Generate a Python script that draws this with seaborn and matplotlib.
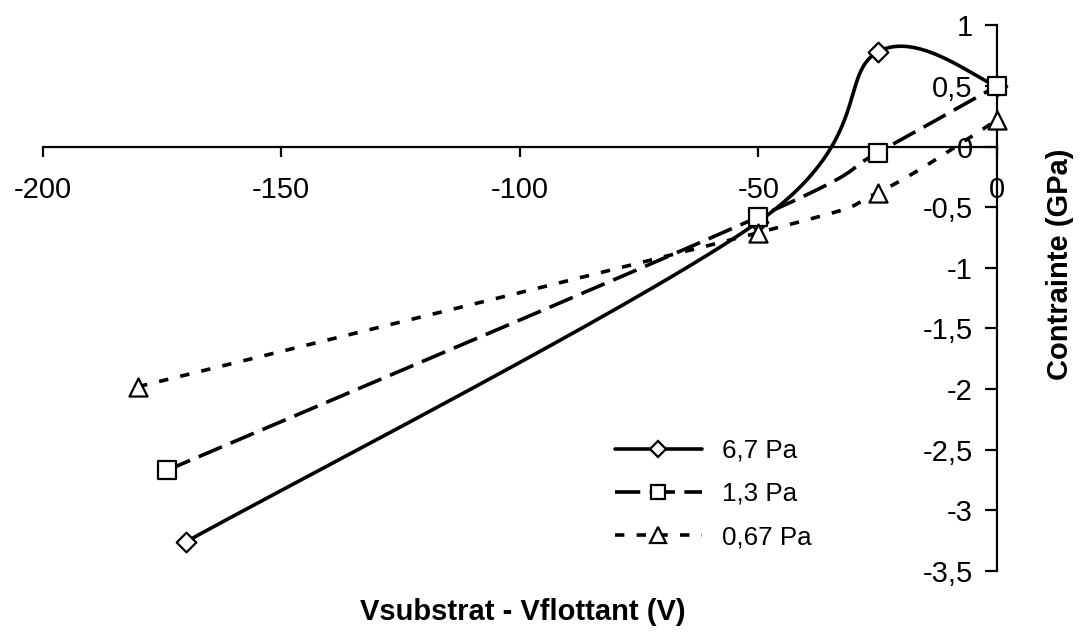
import numpy as np
import pandas as pd
import matplotlib
matplotlib.use("Agg")
import matplotlib.pyplot as plt
import seaborn as sns
from matplotlib.lines import Line2D
from matplotlib.ticker import FixedLocator, FixedFormatter

# ---- data ----
series_names = ["6,7 Pa", "1,3 Pa", "0,67 Pa"]
x_67 = [-170, -50, -25, 0]
y_67 = [-3.26, -0.62, 0.78, 0.50]
x_13 = [-174, -50, -25, 0]
y_13 = [-2.67, -0.58, -0.05, 0.50]
x_067 = [-180, -50, -25, 0]
y_067 = [-1.98, -0.71, -0.38, 0.22]

x_ticks = [-200, -150, -100, -50, 0]
x_tick_labels = ["-200", "-150", "-100", "-50", "0"]
y_ticks = [1, 0.5, 0, -0.5, -1, -1.5, -2, -2.5, -3, -3.5]
y_tick_labels = ["1", "0,5", "0", "-0,5", "-1", "-1,5", "-2", "-2,5", "-3", "-3,5"]

x_title = "Vsubstrat - Vflottant (V)"
y_title = "Contrainte (GPa)"

sns.set_style("white")
plt.rcParams["font.family"] = ["Liberation Sans", "DejaVu Sans"]
plt.rcParams["text.color"] = "black"
plt.rcParams["axes.labelcolor"] = "black"
plt.rcParams["xtick.color"] = "black"
plt.rcParams["ytick.color"] = "black"

W, H = 1080, 640
fig = plt.figure(figsize=(W / 100, H / 100), dpi=100)
left, right = 42.7 / W, 997 / W
top, bottom = 1 - 25.3 / H, 1 - 571 / H
ax = fig.add_axes([left, bottom, right - left, top - bottom])
ax.set_xlim(-200, 0)
ax.set_ylim(-3.5, 1)

ax_w_px = (right - left) * W
ax_h_px = (top - bottom) * H
sx, sy = ax_w_px / 200.0, ax_h_px / 4.5


def excel_smooth(xs, ys, n=60):
    P = np.column_stack([np.asarray(xs, float) * sx, np.asarray(ys, float) * sy])
    m = len(P)
    out = []
    for i in range(m - 1):
        p0 = P[max(i - 1, 0)]
        p1 = P[i]
        p2 = P[i + 1]
        p3 = P[min(i + 2, m - 1)]
        c1 = p1 + (p2 - p0) / 6.0
        c2 = p2 - (p3 - p1) / 6.0
        t = np.linspace(0, 1, n)[:, None]
        seg = (1 - t) ** 3 * p1 + 3 * (1 - t) ** 2 * t * c1 + 3 * (1 - t) * t ** 2 * c2 + t ** 3 * p2
        out.append(seg if i == 0 else seg[1:])
    S = np.vstack(out)
    return S[:, 0] / sx, S[:, 1] / sy


LW = 2.6
styles = [
    dict(x=x_67, y=y_67, ls="-", marker="D", ms=10),
    dict(x=x_13, y=y_13, ls=(0, (7, 2.6)), marker="s", ms=12.5),
    dict(x=x_067, y=y_067, ls=(0, (2.6, 3.4)), marker="^", ms=13),
]

handles = []
for name, st in zip(series_names, styles):
    cx, cy = excel_smooth(st["x"], st["y"])
    dfc = pd.DataFrame({"x": cx, "y": cy})
    sns.lineplot(data=dfc, x="x", y="y", sort=False, estimator=None, ax=ax,
                 color="black", linewidth=LW, linestyle=st["ls"], zorder=3)
    dfp = pd.DataFrame({"x": st["x"], "y": st["y"]})
    sns.scatterplot(data=dfp, x="x", y="y", ax=ax, marker=st["marker"],
                    s=st["ms"] ** 2, facecolor="white", edgecolor="black",
                    linewidth=1.6, zorder=5, clip_on=False)
    handles.append(Line2D([0], [0], color="black", lw=LW, ls=st["ls"],
                          marker=st["marker"], markersize=st["ms"] * 0.85,
                          markerfacecolor="white", markeredgecolor="black",
                          markeredgewidth=1.6))

# spines crossing at origin
for s in ["top", "right"]:
    ax.spines[s].set_visible(False)
ax.spines["left"].set_position(("data", 0))
ax.spines["bottom"].set_position(("data", 0))
for s in ["left", "bottom"]:
    ax.spines[s].set_linewidth(1.6)
    ax.spines[s].set_color("black")
    ax.spines[s].set_zorder(2)

ax.xaxis.set_major_locator(FixedLocator(x_ticks))
ax.xaxis.set_major_formatter(FixedFormatter(x_tick_labels))
ax.yaxis.set_major_locator(FixedLocator(y_ticks))
ax.yaxis.set_major_formatter(FixedFormatter(y_tick_labels))
ax.tick_params(axis="x", direction="out", length=7.5, width=1.6, pad=14,
               labelsize=21, colors="black", labelcolor="black", bottom=True)
ax.tick_params(axis="y", direction="out", length=8.5, width=1.6, pad=9,
               labelsize=21, colors="black", labelcolor="black", left=True)
ax.set_xlabel("")
ax.set_ylabel("")
ax.grid(False)
ax.set_facecolor("white")

fig.text(523 / W, 1 - 612 / H, x_title, ha="center", va="center",
         fontsize=21, fontweight="bold", color="black")
fig.text(1060 / W, 1 - 264 / H, y_title, ha="center", va="center",
         rotation=90, fontsize=21, fontweight="bold", color="black")

leg = ax.legend(handles, series_names, loc="center left",
                bbox_to_anchor=(615 / W, 1 - 494 / H), bbox_transform=fig.transFigure,
                frameon=False, fontsize=18.75, handlelength=3.34, handletextpad=0.77,
                labelspacing=0.73, borderpad=0, borderaxespad=0, labelcolor="black")

fig.savefig("out.png", dpi=100, facecolor="white")
